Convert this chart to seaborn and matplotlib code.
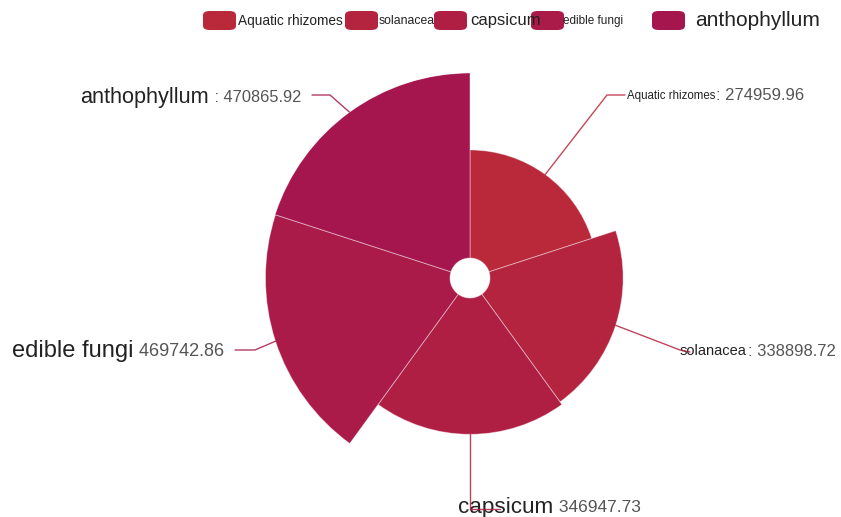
import numpy as np
import matplotlib
matplotlib.use("Agg")
import matplotlib.pyplot as plt
from matplotlib.patches import FancyBboxPatch
import seaborn as sns

categories = ["Aquatic rhizomes", "solanacea", "capsicum", "edible fungi", "anthophyllum"]
values = [274959.96, 338898.72, 346947.73, 469742.86, 470865.92]
value_labels = ["274959.96", "338898.72", "346947.73", "469742.86", "470865.92"]

sns.set_theme(style="white")
plt.rcParams["font.family"] = ["Liberation Sans", "DejaVu Sans"]

colors = sns.blend_palette(["#b9293a", "#a5164e"], n_colors=len(categories))

W, H = 841, 517
fig = plt.figure(figsize=(W / 100, H / 100), dpi=100)

# rose chart: equal angles, radius grows with value, starting at 12 o'clock, clockwise
cx, cy, rpx = 470, 278, 205
ax = fig.add_axes([(cx - rpx) / W, (H - cy - rpx) / H, 2 * rpx / W, 2 * rpx / H],
                  projection="polar")
ax.set_theta_zero_location("N")
ax.set_theta_direction(-1)
vmax = max(values)
inner = vmax * 20 / 185
n = len(categories)
width = 2 * np.pi / n
theta = np.arange(n) * width + width / 2
ax.bar(theta, values, width=width, bottom=inner, align="center",
       color=colors, edgecolor=(1, 1, 1, 0.4), linewidth=0.7)
ax.set_ylim(0, inner + vmax)
ax.set_axis_off()

# leader lines and labels, in figure pixels from the top-left corner
name_sizes = [8.3, 10.5, 16.2, 17.0, 15.6]
val_sizes = [12, 12, 12.5, 13, 11.8]
elbows = [(607, 95), (680, 350), (470, 509), (255, 350), (330, 95)]
ends = [(625, 95), (690, 352), (500, 509), (235, 350), (312, 95)]
name_pos = [(627, 96), (680, 351), (458, 508), (12, 351), (80, 97)]
seps = [": ", ": ", " ", " ", " : "]


def px(x, y):
    return x / W, 1 - y / H


for i in range(n):
    a = theta[i]
    r = (inner + values[i]) / (inner + vmax) * rpx
    sx, sy = cx + r * np.sin(a), cy - r * np.cos(a)
    xs = [sx, elbows[i][0], ends[i][0]]
    ys = [sy, elbows[i][1], ends[i][1]]
    fig.add_artist(plt.Line2D([x / W for x in xs], [1 - y / H for y in ys],
                              color=colors[i], alpha=0.85, lw=1.0, zorder=5))
    x0, y0 = name_pos[i]
    t = fig.text(*px(x0, y0), categories[i], fontsize=name_sizes[i], color="#222222",
                 ha="left", va="center", zorder=4)
    fig.canvas.draw()
    bb = t.get_window_extent()
    fig.text(bb.x1 / W + 1 / W, 1 - y0 / H, seps[i] + value_labels[i],
             fontsize=val_sizes[i], color="#555555", ha="left", va="center")

# legend row
leg_boxes = [203, 345, 434, 531, 652]
leg_text_x = [238, 379, 470, 563, 695]
leg_sizes = [9.8, 8.8, 12.0, 8.5, 15.0]
for i in range(n):
    bx = leg_boxes[i]
    box = FancyBboxPatch((bx / W, 1 - 30 / H), 33 / W, 19 / H,
                         boxstyle="round,pad=0,rounding_size=0.008",
                         transform=fig.transFigure, facecolor=colors[i],
                         edgecolor="none", zorder=2)
    fig.add_artist(box)
    fig.text(leg_text_x[i] / W, 1 - 21 / H, categories[i], fontsize=leg_sizes[i],
             color="#222222", ha="left", va="center", zorder=3)

fig.savefig("out.png", dpi=100, facecolor="white")
